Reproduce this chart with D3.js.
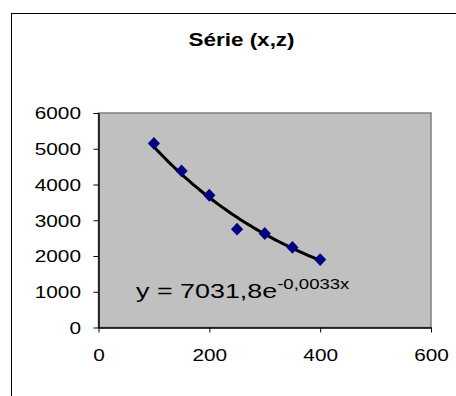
<!DOCTYPE html>
<html>
<head>
<meta charset="utf-8">
<script src="https://cdn.jsdelivr.net/npm/d3@7"></script>
<style>
  html, body { margin: 0; padding: 0; background: #fff; }
  svg { display: block; }
  text { font-family: "Liberation Sans", Arial, sans-serif; fill: #000; }
</style>
</head>
<body>
<script>
// Measured series (x, z)
const xValues = [100, 150, 200, 250, 300, 350, 400];
const zValues = [5150, 4380, 3700, 2750, 2630, 2240, 1900];

// Exponential fit shown on the chart: y = 7031,8 e^(-0,0033x)
const fitA = 7031.8;
const fitB = -0.0033;

const xTicks = [0, 200, 400, 600];
const yTicks = [0, 1000, 2000, 3000, 4000, 5000, 6000];

const titleText = "Série (x,z)";

const W = 456, H = 396;
const stretch = 1.3; // horizontal widening of all lettering

const svg = d3.select("body").append("svg")
  .attr("width", W).attr("height", H);

// chart frame
svg.append("rect")
  .attr("x", 11.5).attr("y", 13.5)
  .attr("width", 500).attr("height", 500)
  .attr("fill", "#fff").attr("stroke", "#000").attr("stroke-width", 1);

const plot = { left: 98.5, right: 431, top: 113, bottom: 327.5 };

const x = d3.scaleLinear().domain([0, 600]).range([plot.left, plot.right]);
const y = d3.scaleLinear().domain([0, 6000]).range([plot.bottom, plot.top]);

// plot area
svg.append("rect")
  .attr("x", plot.left).attr("y", plot.top)
  .attr("width", plot.right - plot.left).attr("height", plot.bottom - plot.top)
  .attr("fill", "#c0c0c0").attr("stroke", "#808080").attr("stroke-width", 1.5);

// title
svg.append("text")
  .attr("transform", `translate(241.5,45.5) scale(${stretch - 0.05},1)`)
  .attr("text-anchor", "middle")
  .attr("font-size", 18).attr("font-weight", "bold")
  .text(titleText);

// axes
const fmt = d3.format("d");
const yAxis = d3.axisLeft(y).tickValues(yTicks).tickFormat(fmt)
  .tickSize(5).tickSizeOuter(0).tickPadding(0);
const gy = svg.append("g").attr("transform", `translate(${plot.left},0)`).call(yAxis);
gy.selectAll("text")
  .attr("x", -17.5 / stretch).attr("dy", "0.37em")
  .attr("transform", `scale(${stretch},1)`)
  .attr("font-size", 16).attr("font-family", null);

const xAxis = d3.axisBottom(x).tickValues(xTicks).tickFormat(fmt)
  .tickSize(5).tickSizeOuter(0).tickPadding(0);
const gx = svg.append("g").attr("transform", `translate(0,${plot.bottom})`).call(xAxis);
gx.selectAll("text")
  .attr("y", 34).attr("dy", 0)
  .attr("transform", `scale(${stretch},1)`)
  .attr("font-size", 16).attr("font-family", null);

[gx, gy].forEach(g => {
  g.select(".domain").attr("stroke", "#000").attr("stroke-width", 1.5);
  g.selectAll(".tick line").attr("stroke", "#000").attr("stroke-width", 1);
});

// trend curve from the fitted equation
const fitXs = d3.range(xValues[0], xValues[xValues.length - 1] + 0.001, 5);
const line = d3.line().x(d => x(d)).y(d => y(fitA * Math.exp(fitB * d)));
svg.append("path")
  .datum(fitXs)
  .attr("d", line)
  .attr("fill", "none").attr("stroke", "#000").attr("stroke-width", 3)
  .attr("stroke-linejoin", "round").attr("stroke-linecap", "round");

// data markers (diamonds)
const diamond = d3.symbol().type(d3.symbolDiamond2).size(95);
svg.append("g").selectAll("path")
  .data(xValues.map((v, i) => [v, zValues[i]]))
  .join("path")
  .attr("d", diamond)
  .attr("transform", d => `translate(${x(d[0])},${y(d[1])}) scale(1, 1.05)`)
  .attr("fill", "#000080");

// equation label
const eq = svg.append("text")
  .attr("transform", `translate(136,298) scale(${stretch - 0.02},1)`)
  .attr("font-size", 21);
eq.append("tspan").text("y = 7031,8e");
eq.append("tspan").attr("font-size", 14.5).attr("dy", -9).text("-0,0033x");
</script>
</body>
</html>
